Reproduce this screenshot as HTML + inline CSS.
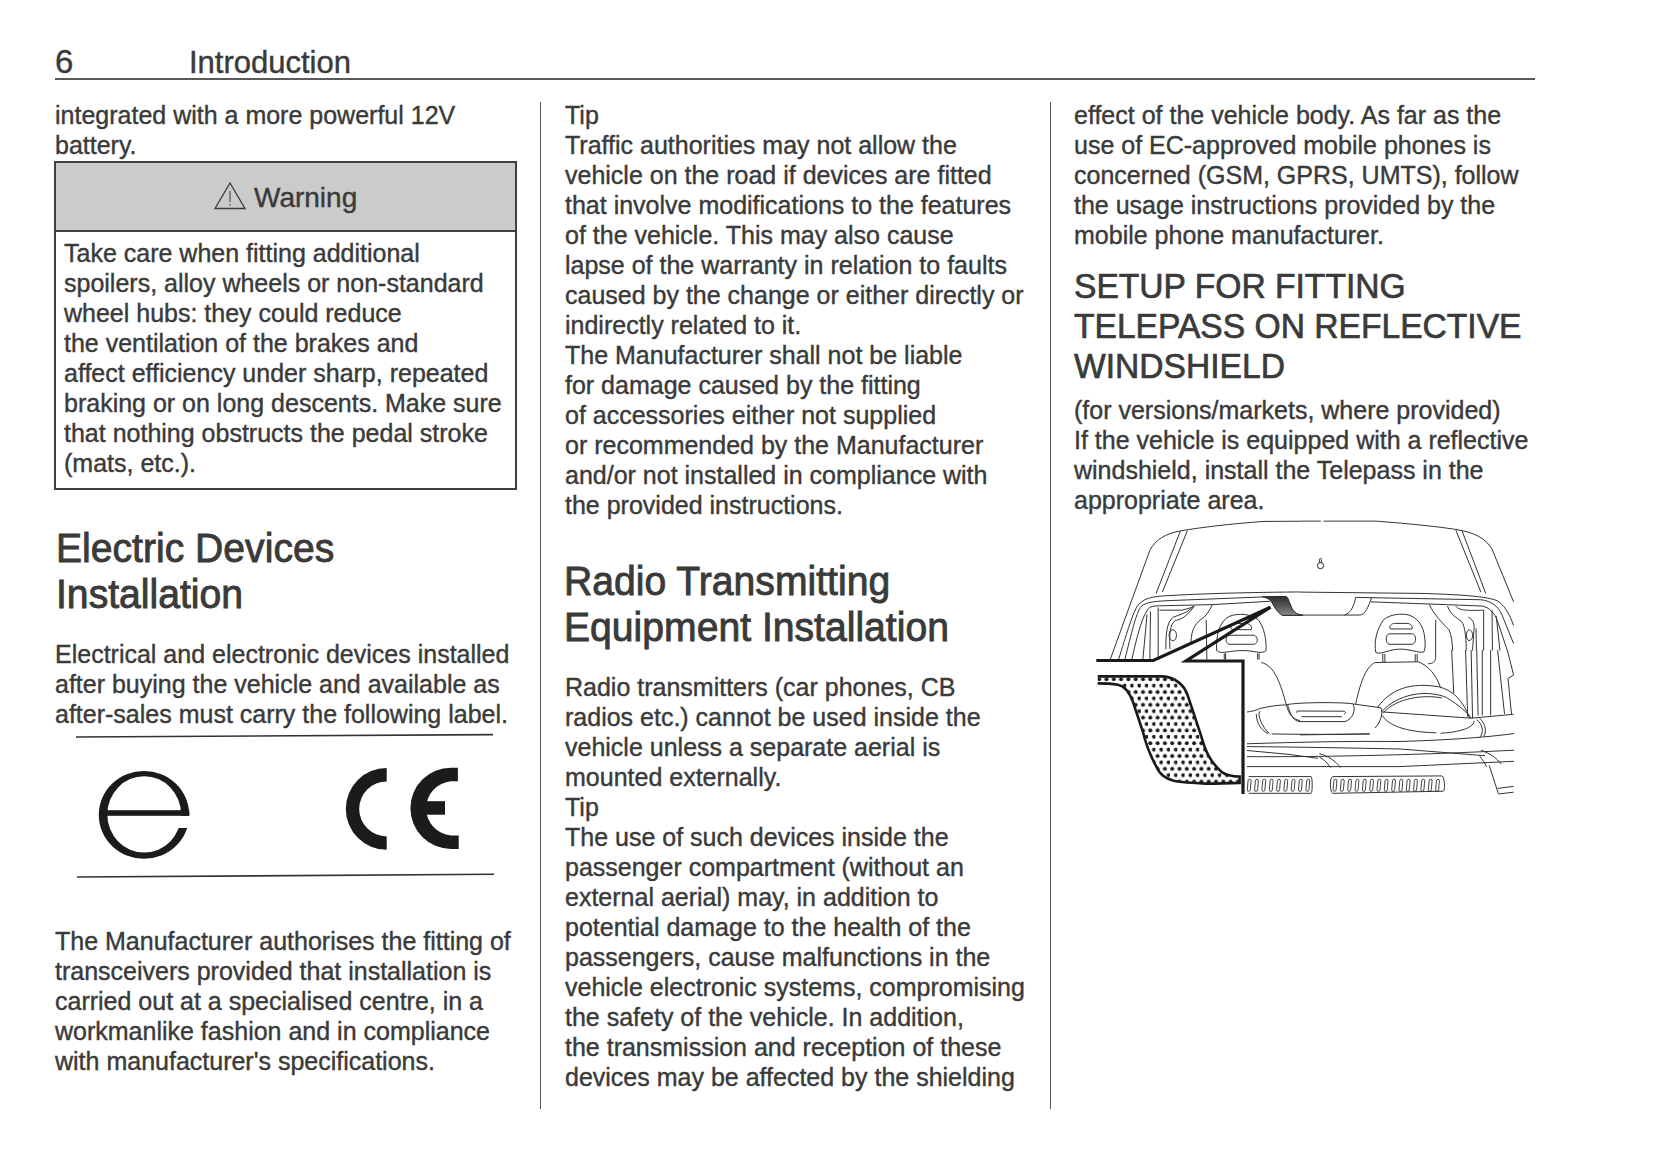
<!DOCTYPE html>
<html><head><meta charset="utf-8">
<style>
html,body{margin:0;padding:0;background:#fff;}
body{width:1653px;height:1165px;position:relative;overflow:hidden;font-family:"Liberation Sans",sans-serif;color:#3a3a3a;-webkit-text-stroke:0.4px #3a3a3a;}
.a{position:absolute;white-space:nowrap;}
.b{font-size:25px;line-height:30px;}
.h{font-size:40px;line-height:46px;transform:scaleX(0.978);transform-origin:0 0;-webkit-text-stroke:0.9px #3a3a3a;}
.hr{position:absolute;background:#5a5a5a;}
</style></head><body>
<!-- header -->
<div class="a" style="left:55px;top:44.5px;font-size:33px;line-height:34px;">6</div>
<div class="a" style="left:189px;top:46px;font-size:31px;line-height:34px;">Introduction</div>
<div class="hr" style="left:55px;top:78px;width:1480px;height:2px;"></div>
<!-- dividers -->
<div class="hr" style="left:540px;top:102px;width:1.3px;height:1007px;background:#555;"></div>
<div class="hr" style="left:1049.5px;top:102px;width:1.3px;height:1007px;background:#555;"></div>

<!-- column 1 -->
<div class="a b" style="left:55px;top:100px;">integrated with a more powerful 12V<br>battery.</div>
<div style="position:absolute;left:54px;top:161px;width:459px;height:325px;border:2px solid #404040;"></div>
<div style="position:absolute;left:56px;top:163px;width:459px;height:67px;background:#cbcbcb;border-bottom:2px solid #404040;"></div>
<div class="a" style="left:254px;top:182px;font-size:28px;line-height:32px;">Warning</div>
<svg class="a" style="left:212px;top:180px" width="36" height="32" viewBox="0 0 36 32"><path d="M18 3 L33 28.5 L3 28.5 Z" fill="none" stroke="#3a3a3a" stroke-width="1.3"/><path d="M18 11 L18 22" stroke="#3a3a3a" stroke-width="1"/><path d="M18 24 L18 25.5" stroke="#3a3a3a" stroke-width="1"/></svg>
<div class="a b" style="left:64px;top:238px;">Take care when fitting additional<br>spoilers, alloy wheels or non-standard<br>wheel hubs: they could reduce<br>the ventilation of the brakes and<br>affect efficiency under sharp, repeated<br>braking or on long descents. Make sure<br>that nothing obstructs the pedal stroke<br>(mats, etc.).</div>

<div class="a h" style="left:55.6px;top:524.8px;">Electric Devices<br>Installation</div>
<div class="a b" style="left:55px;top:639px;">Electrical and electronic devices installed<br>after buying the vehicle and available as<br>after-sales must carry the following label.</div>


<!-- logos -->
<svg class="a" style="left:0;top:0" width="540" height="1165" viewBox="0 0 540 1165">
<path d="M76 737 L493 734.6" stroke="#333" stroke-width="1.6" fill="none"/>
<path d="M77 877 L494 874.3" stroke="#333" stroke-width="1.6" fill="none"/>
<path fill-rule="evenodd" fill="#1c1a1a" d="M98.8 814.9 A45.2 43.9 0 1 0 189.2 814.9 A45.2 43.9 0 1 0 98.8 814.9 Z M107.3 814.4 A36.9 38.2 0 1 0 181.1 814.4 A36.9 38.2 0 1 0 107.3 814.4 Z"/>
<rect x="170" y="815.8" width="24" height="12.2" fill="#fff"/>
<rect x="105" y="810.2" width="84.3" height="5.6" fill="#1c1a1a"/>
<path d="M386.7 768 A40.9 40.9 0 0 0 386.7 849.8 L386.7 836.4 A27.5 27.5 0 0 1 386.7 781.4 Z" fill="#1c1a1a"/>
<path d="M451 767.7 A40.6 40.6 0 0 0 451 848.9 L458.7 848.9 L458.7 835.5 L451 835.5 A27.2 27.2 0 0 1 451 781.3 L457.9 781.3 L457.9 767.7 Z" fill="#1c1a1a"/>
<rect x="425" y="801.2" width="20" height="13.5" fill="#1c1a1a"/>
</svg>
<div class="a b" style="left:55px;top:926px;">The Manufacturer authorises the fitting of<br>transceivers provided that installation is<br>carried out at a specialised centre, in a<br>workmanlike fashion and in compliance<br>with manufacturer's specifications.</div>

<!-- column 2 -->
<div class="a b" style="left:565px;top:100px;">Tip<br>Traffic authorities may not allow the<br>vehicle on the road if devices are fitted<br>that involve modifications to the features<br>of the vehicle. This may also cause<br>lapse of the warranty in relation to faults<br>caused by the change or either directly or<br>indirectly related to it.<br>The Manufacturer shall not be liable<br>for damage caused by the fitting<br>of accessories either not supplied<br>or recommended by the Manufacturer<br>and/or not installed in compliance with<br>the provided instructions.</div>
<div class="a h" style="left:564.3px;top:557.5px;">Radio Transmitting<br>Equipment Installation</div>
<div class="a b" style="left:565px;top:672px;">Radio transmitters (car phones, CB<br>radios etc.) cannot be used inside the<br>vehicle unless a separate aerial is<br>mounted externally.<br>Tip<br>The use of such devices inside the<br>passenger compartment (without an<br>external aerial) may, in addition to<br>potential damage to the health of the<br>passengers, cause malfunctions in the<br>vehicle electronic systems, compromising<br>the safety of the vehicle. In addition,<br>the transmission and reception of these<br>devices may be affected by the shielding</div>

<!-- column 3 -->
<div class="a b" style="left:1074px;top:100px;">effect of the vehicle body. As far as the<br>use of EC-approved mobile phones is<br>concerned (GSM, GPRS, UMTS), follow<br>the usage instructions provided by the<br>mobile phone manufacturer.</div>
<div class="a" style="left:1074px;top:266px;font-size:35px;line-height:40px;transform:scaleX(0.96);transform-origin:0 0;-webkit-text-stroke:0.7px #3a3a3a;">SETUP FOR FITTING<br>TELEPASS ON REFLECTIVE<br>WINDSHIELD</div>
<div class="a b" style="left:1074px;top:395px;">(for versions/markets, where provided)<br>If the vehicle is equipped with a reflective<br>windshield, install the Telepass in the<br>appropriate area.</div>

<!-- car illustration -->
<svg class="a" style="left:1090px;top:510px" width="440" height="300" viewBox="1090 510 440 300">
<defs>
<pattern id="dots" x="1097" y="676" width="7.3" height="12.8" patternUnits="userSpaceOnUse">
<circle cx="2.2" cy="3.2" r="2.0" fill="#1a1a1a"/>
<circle cx="5.85" cy="9.6" r="2.0" fill="#1a1a1a"/>
</pattern>
<linearGradient id="sh" x1="0" y1="0" x2="0" y2="1"><stop offset="0" stop-color="#2e2e2e"/><stop offset="0.5" stop-color="#555"/><stop offset="1" stop-color="#8a8a8a"/></linearGradient>
<clipPath id="cq1"><rect x="1090" y="500" width="210" height="320"/></clipPath><clipPath id="cq2"><rect x="1300" y="500" width="240" height="168"/></clipPath><clipPath id="cq3"><rect x="1090" y="650" width="210" height="170"/></clipPath><clipPath id="cq4"><rect x="1300" y="650" width="240" height="170"/></clipPath>
</defs>
<g fill="none" stroke="#333" stroke-width="1" vector-effect="non-scaling-stroke">
 <g clip-path="url(#cq1)"><g transform="translate(1090 510) scale(0.13914)" >
  <path vector-effect="non-scaling-stroke" d="M145,1075 L430,290 C470,215 540,170 650,150 C800,125 1000,100 1250,82 L1653,80"/>
  <path vector-effect="non-scaling-stroke" d="M475,600 L650,150 M520,590 L700,148"/>
  <path vector-effect="non-scaling-stroke" d="M205,1075 C260,900 300,760 340,690 C380,640 430,625 520,618 C800,600 1200,590 1653,588"/>
  <path vector-effect="non-scaling-stroke" d="M250,1075 C300,880 330,740 370,690 C410,660 470,655 600,650 L1240,625"/>
  <path vector-effect="non-scaling-stroke" d="M300,1075 C340,900 380,740 430,700 C450,690 480,688 520,688 L880,680 L1292,656"/>
  <path vector-effect="non-scaling-stroke" d="M380,1075 L410,750 M430,1075 L435,730 M490,1075 L490,700"/>
  <path vector-effect="non-scaling-stroke" d="M500,720 L660,720 C700,710 740,700 745,690"/>
  <path vector-effect="non-scaling-stroke" d="M545,1000 C545,900 550,800 600,770 C650,750 700,740 745,690"/>
  <path vector-effect="non-scaling-stroke" d="M575,1000 C570,900 570,800 630,790 C680,780 720,730 750,690"/>
  <path vector-effect="non-scaling-stroke" d="M590,860 C560,870 560,940 600,940 C630,930 630,860 590,860"/>
  <path vector-effect="non-scaling-stroke" d="M725,950 C730,850 760,810 820,770 C850,740 870,700 880,680"/>
  <path vector-effect="non-scaling-stroke" d="M835,790 L840,1075"/>
  <path vector-effect="non-scaling-stroke" d="M910,1010 C905,900 930,800 1000,765 C1060,740 1160,745 1210,790 C1250,840 1270,930 1265,1010 C1240,1040 1180,1010 1100,1010 C1000,1010 940,1040 910,1010 Z"/>
  <path vector-effect="non-scaling-stroke" d="M1000,900 L1180,900 C1210,910 1210,960 1180,965 L1000,965 C970,960 970,905 1000,900 Z"/>
  <path vector-effect="non-scaling-stroke" d="M1020,860 L1160,860 C1170,830 1140,815 1120,815 L1050,815 C1030,815 1000,840 1020,860 Z"/>
  <path vector-effect="non-scaling-stroke" d="M965,1030 L965,1075 M975,1030 L975,1075 M1205,1030 L1205,1075 M1215,1030 L1215,1075"/>
  <path vector-effect="non-scaling-stroke" d="M1530,755 L1653,758"/>
 </g></g>
 <path d="M1262.3,596.8 L1285.6,596.4 C1287.5,597 1288,598 1288.5,600 L1291,606 C1292,609 1294,612 1297,613.7 C1299,614.5 1301,615 1303,615.4 L1282.2,615.4 C1280,614 1277,611 1275.4,608.6 L1272,602.7 C1270,599.7 1268,598 1262.3,596.8 Z" fill="url(#sh)" stroke="#222" stroke-width="1"/>
 <g clip-path="url(#cq2)"><g transform="translate(1300 510) scale(0.13914)">
  <path vector-effect="non-scaling-stroke" d="M0,80 L150,80 M170,80 L550,80 C800,100 1000,120 1120,140 C1250,160 1330,200 1380,280 L1535,660"/>
  <path vector-effect="non-scaling-stroke" d="M1120,145 L1300,590 M1165,150 L1335,600"/>
  <path vector-effect="non-scaling-stroke" d="M0,590 L900,600 C1200,610 1380,625 1430,660 C1480,700 1510,760 1535,830"/>
  <path vector-effect="non-scaling-stroke" d="M400,628 L1300,645 C1380,655 1420,690 1450,750 L1535,960"/>
  <path vector-effect="non-scaling-stroke" d="M510,660 L1310,690 C1360,700 1400,740 1420,800 L1490,1010"/>
  <path vector-effect="non-scaling-stroke" d="M0,755 L430,755 C470,750 490,700 515,628 M320,755 C370,740 390,680 400,628"/>
  <path vector-effect="non-scaling-stroke" d="M545,1025 C530,950 550,860 600,790 C640,755 700,745 760,750 C820,760 870,800 890,880 C905,950 900,1000 890,1020 C850,1030 800,1000 720,1000 C640,1000 590,1040 545,1025 Z"/>
  <path vector-effect="non-scaling-stroke" d="M640,890 L810,890 C835,895 840,955 810,965 L640,965 C615,960 612,895 640,890 Z"/>
  <path vector-effect="non-scaling-stroke" d="M650,855 L805,855 C815,830 790,815 770,815 L680,815 C660,815 635,835 650,855 Z"/>
  <path vector-effect="non-scaling-stroke" d="M595,1035 L595,1095 M610,1035 L610,1095 M828,1035 L828,1090 M842,1035 L842,1090"/>
  <path vector-effect="non-scaling-stroke" d="M930,680 C960,750 1030,820 1070,860 C1090,900 1095,960 1097,1010"/>
  <path vector-effect="non-scaling-stroke" d="M1060,690 C1080,750 1120,770 1160,800 C1190,830 1195,960 1195,1010"/>
  <path vector-effect="non-scaling-stroke" d="M1120,690 C1140,720 1190,725 1320,720 L1320,1010"/>
  <path vector-effect="non-scaling-stroke" d="M1210,770 C1250,790 1255,830 1250,860 L1240,1010 M1265,850 L1268,1010"/>
  <path vector-effect="non-scaling-stroke" d="M1215,860 C1190,870 1190,930 1215,940 C1250,930 1250,870 1215,860"/>
  <path vector-effect="non-scaling-stroke" d="M1380,720 L1383,1010 M1410,760 L1437,1010"/>
  <path vector-effect="non-scaling-stroke" d="M975,790 L975,1060 C975,1090 955,1105 920,1105"/>
 </g></g>
 <g clip-path="url(#cq3)"><g transform="translate(1090 650) scale(0.13914)">
  <path vector-effect="non-scaling-stroke" d="M1220,440 C1200,470 1240,560 1290,600 M1195,460 C1195,520 1230,580 1280,600"/>
  <path vector-effect="non-scaling-stroke" d="M1230,90 C1330,110 1370,250 1410,390 C1430,460 1450,510 1550,512 L1653,510"/>
  <path vector-effect="non-scaling-stroke" d="M1140,910 L1580,910 C1600,915 1600,1025 1580,1030 L1140,1030"/>
 </g></g>
 <g clip-path="url(#cq4)"><g transform="translate(1300 650) scale(0.13914)">
  <path vector-effect="non-scaling-stroke" d="M400,390 C430,250 470,120 540,90 L850,85 C920,110 980,180 1010,270"/>
  <path vector-effect="non-scaling-stroke" d="M560,410 C650,280 800,230 1000,265 C1100,290 1170,360 1220,490"/>
  <path vector-effect="non-scaling-stroke" d="M590,440 C700,320 900,280 1050,340 C1100,370 1190,430 1230,490"/>
  <path vector-effect="non-scaling-stroke" d="M600,450 C700,340 900,320 1020,345"/>
  <path vector-effect="non-scaling-stroke" d="M590,470 C650,560 800,590 980,595 M1010,598 C1100,595 1250,570 1250,510"/>
  <path vector-effect="non-scaling-stroke" d="M590,445 L1230,490 L1535,462"/>
  <path vector-effect="non-scaling-stroke" d="M0,610 L500,603"/>
  <path vector-effect="non-scaling-stroke" d="M140,745 C200,760 260,800 290,845 M140,770 C180,790 200,820 220,845"/>
  <path vector-effect="non-scaling-stroke" d="M1300,720 C1360,740 1420,780 1445,820 M1290,760 C1310,790 1330,810 1340,840"/>
  <path vector-effect="non-scaling-stroke" d="M1270,500 C1320,540 1320,600 1290,630 M1290,490 C1340,530 1340,600 1320,620"/>
  <path vector-effect="non-scaling-stroke" d="M1360,830 L1425,1030 M1420,995 L1535,980 M1425,1035 L1535,1022"/>
  <path vector-effect="non-scaling-stroke" d="M1090,0 L1105,310 M1190,0 L1205,480 M1230,0 L1240,490 M1270,0 L1280,470 M1310,0 L1310,470 M1370,0 L1370,470 M1420,0 L1470,460 M1490,0 L1535,180 L1495,205 L1520,460"/>
  <path vector-effect="non-scaling-stroke" d="M0,910 L80,910 C90,915 90,1025 80,1030 L0,1030"/>
  <path vector-effect="non-scaling-stroke" d="M235,910 L1020,905 C1040,910 1045,1010 1030,1015 L235,1030 C215,1025 210,915 235,910 Z"/>
 </g></g>
</g>
<g fill="none" stroke="#333" stroke-width="1">
 <path d="M1247,743.8 C1300,742 1350,741 1400,741.5 C1450,740 1490,737 1514,733.5"/>
 <path d="M1247,746.6 C1300,747 1350,748 1400,749 L1485,755.7"/>
 <path d="M1247,750.5 L1289,754.4 L1318,758.3"/>
 <path d="M1247,756.6 C1300,757 1400,756 1514,750.2"/>
 <path d="M1247,766.6 L1400,766.6 L1514,761.3"/>
</g>
<g fill="none" stroke="#333" stroke-width="1">
 <path d="M1247,712 C1252,711.5 1257,710 1260,708.5 C1270,706 1280,705 1287.5,704.8"/>
 <path d="M1287.5,704.5 C1300,702.3 1340,702 1353,703.8 C1356,710 1353,719 1345,721.6 L1300,721.6 C1292,721 1290,712 1287.5,704.5 Z"/>
 <path d="M1297,712.8 C1296,711.5 1297,711 1298,711 L1344,711.2 C1346,712 1346,713.5 1344,714 M1301.4,716.7 L1341.8,716.7"/>
 <path d="M1353.5,704 L1381,707.8 C1383,713 1381,722 1375,728"/>
 <path d="M1271.6,733.9 C1300,734.5 1340,734.5 1369.8,733.9"/>
</g>
<circle cx="1320.5" cy="565.6" r="3.1" fill="none" stroke="#222" stroke-width="1"/><path d="M1319.6,562.8 L1319.6,559.2 C1319.6,558 1321.4,558 1321.4,559.2 L1321.4,562.8" fill="none" stroke="#222" stroke-width="0.9"/>
<g id="slots" fill="none" stroke="#333" stroke-width="0.9">
<rect x="1248.2" y="779.3" width="3.0" height="12" rx="1.5" transform="skewX(-5) translate(68.2 0)"/>
<rect x="1255.5" y="779.3" width="3.0" height="12" rx="1.5" transform="skewX(-5) translate(68.2 0)"/>
<rect x="1262.8" y="779.3" width="3.0" height="12" rx="1.5" transform="skewX(-5) translate(68.2 0)"/>
<rect x="1270.2" y="779.3" width="3.0" height="12" rx="1.5" transform="skewX(-5) translate(68.2 0)"/>
<rect x="1277.5" y="779.3" width="3.0" height="12" rx="1.5" transform="skewX(-5) translate(68.2 0)"/>
<rect x="1284.8" y="779.3" width="3.0" height="12" rx="1.5" transform="skewX(-5) translate(68.2 0)"/>
<rect x="1292.1" y="779.3" width="3.0" height="12" rx="1.5" transform="skewX(-5) translate(68.2 0)"/>
<rect x="1299.4" y="779.3" width="3.0" height="12" rx="1.5" transform="skewX(-5) translate(68.2 0)"/>
<rect x="1306.8" y="779.3" width="3.0" height="12" rx="1.5" transform="skewX(-5) translate(68.2 0)"/>
<rect x="1334.0" y="779.3" width="3.0" height="12" rx="1.5" transform="skewX(-5) translate(68.2 0)"/>
<rect x="1341.3" y="779.3" width="3.0" height="12" rx="1.5" transform="skewX(-5) translate(68.2 0)"/>
<rect x="1348.6" y="779.3" width="3.0" height="12" rx="1.5" transform="skewX(-5) translate(68.2 0)"/>
<rect x="1356.0" y="779.3" width="3.0" height="12" rx="1.5" transform="skewX(-5) translate(68.2 0)"/>
<rect x="1363.3" y="779.3" width="3.0" height="12" rx="1.5" transform="skewX(-5) translate(68.2 0)"/>
<rect x="1370.6" y="779.3" width="3.0" height="12" rx="1.5" transform="skewX(-5) translate(68.2 0)"/>
<rect x="1377.9" y="779.3" width="3.0" height="12" rx="1.5" transform="skewX(-5) translate(68.2 0)"/>
<rect x="1385.2" y="779.3" width="3.0" height="12" rx="1.5" transform="skewX(-5) translate(68.2 0)"/>
<rect x="1392.6" y="779.3" width="3.0" height="12" rx="1.5" transform="skewX(-5) translate(68.2 0)"/>
<rect x="1399.9" y="779.3" width="3.0" height="12" rx="1.5" transform="skewX(-5) translate(68.2 0)"/>
<rect x="1407.2" y="779.3" width="3.0" height="12" rx="1.5" transform="skewX(-5) translate(68.2 0)"/>
<rect x="1414.5" y="779.3" width="3.0" height="12" rx="1.5" transform="skewX(-5) translate(68.2 0)"/>
<rect x="1421.8" y="779.3" width="3.0" height="12" rx="1.5" transform="skewX(-5) translate(68.2 0)"/>
<rect x="1429.2" y="779.3" width="3.0" height="12" rx="1.5" transform="skewX(-5) translate(68.2 0)"/>
<rect x="1436.5" y="779.3" width="3.0" height="12" rx="1.5" transform="skewX(-5) translate(68.2 0)"/>
</g>
<!-- callout -->
<path d="M1097.7,676.4 L1162.4,676.4 C1175,677 1184,685 1187.4,694.5 L1201.3,736.3 C1205,750 1210,762 1222.2,772.4 C1228,776 1236,776.6 1239.6,776.6 L1239.6,782.9 C1225,783 1215,784 1205.5,783.6 C1190,783 1180,782 1173.5,780.8 C1165,778 1160,775 1156,766 C1150,755 1146,745 1143,732 L1133,702 C1130,694 1125,686 1117.8,684.8 C1110,683.4 1104,683.4 1097.7,683.4" fill="url(#dots)" stroke="#1a1a1a" stroke-width="2.6"/>
<path d="M1096.3,660.5 L1153.3,660.5 L1270.5,607.2 L1186,661 L1243,661 L1243,794" fill="none" stroke="#1a1a1a" stroke-width="3.2" stroke-linejoin="miter"/>
</svg>

</body></html>
